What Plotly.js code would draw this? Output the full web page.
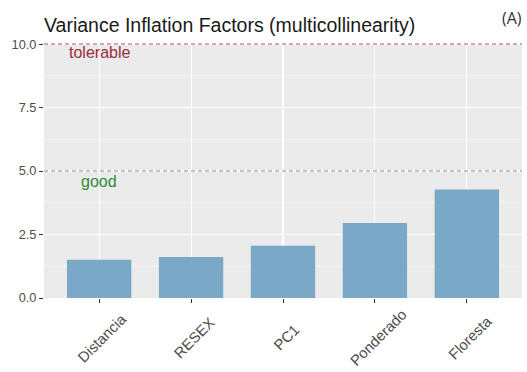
<!DOCTYPE html>
<html>
<head>
<meta charset="utf-8">
<script src="https://cdn.plot.ly/plotly-3.0.1.min.js"></script>
<style>
  html, body { margin: 0; padding: 0; background: #ffffff; }
  #chart { width: 527px; height: 372px; }
</style>
</head>
<body>
<div id="chart"></div>
<script>
// Variance inflation factor per predictor
const predictors = ["Distancia", "RESEX", "PC1", "Ponderado", "Floresta"];
const vifValues = [1.51, 1.61, 2.06, 2.95, 4.27];

// Reference thresholds
const thresholdValues = [10, 5];
const thresholdLabels = ["tolerable", "good"];
const thresholdLabelY = [9.65, 4.6];

// Y axis ticks
const yTickVals = [0, 2.5, 5, 7.5, 10];
const yTickText = ["0.0", "2.5", "5.0", "7.5", "10.0"];

const baseFont = "Liberation Sans, Arial, sans-serif";
const thresholdColors = ["#a8505c", "#6f9a6f"];
const labelColors = ["#9b2d3b", "#2f8a35"];

const trace = {
  type: "bar",
  x: predictors,
  y: vifValues,
  width: 0.7,
  marker: { color: "#7aa8c6", line: { width: 0 } },
  hoverinfo: "x+y"
};

const shapes = thresholdValues.map((v, i) => ({
  type: "line",
  xref: "paper", yref: "y",
  x0: 0, x1: 1, y0: v, y1: v,
  line: { color: thresholdColors[i], width: 1.1, dash: "4px,3px" },
  layer: "above"
}));

const annotations = [];
thresholdLabels.forEach((t, i) => {
  annotations.push({
    xref: "x", yref: "y",
    x: predictors[0], y: thresholdLabelY[i],
    text: t, showarrow: false,
    xanchor: "center", yanchor: "middle",
    font: { family: baseFont, size: 16, color: labelColors[i] }
  });
});

// Rotated category labels centred under each tick
predictors.forEach(p => {
  annotations.push({
    xref: "x", yref: "paper",
    x: p, y: -0.155,
    xshift: 3,
    text: p, showarrow: false, textangle: -45,
    xanchor: "center", yanchor: "middle",
    font: { family: baseFont, size: 14.8, color: "#4d4d4d" }
  });
});

// Panel tag
annotations.push({
  xref: "paper", yref: "paper",
  x: 1.0, y: 1.0, yshift: 25, xshift: 2,
  text: "(A)", showarrow: false,
  xanchor: "right", yanchor: "middle",
  font: { family: "Open Sans, Noto Sans, sans-serif", size: 16, color: "#333333" }
});

const layout = {
  width: 527, height: 372,
  margin: { l: 44, r: 5, t: 43, b: 74, pad: 0 },
  paper_bgcolor: "#ffffff",
  plot_bgcolor: "#ebebeb",
  showlegend: false,
  bargap: 0.3,
  title: {
    text: "Variance Inflation Factors (multicollinearity)",
    font: { family: baseFont, size: 19.5, color: "#1a1a1a" },
    xref: "paper", x: 0, xanchor: "left",
    yref: "container", y: 1 - 25 / 372, yanchor: "middle"
  },
  xaxis: {
    type: "category",
    range: [-0.6, 4.6],
    showticklabels: false,
    ticks: "outside", ticklen: 4, tickwidth: 1, tickcolor: "#333333",
    showgrid: true, gridcolor: "#ffffff", gridwidth: 1.1,
    zeroline: false, showline: false, fixedrange: true
  },
  yaxis: {
    range: [0, 10.04],
    tickmode: "array", tickvals: yTickVals, ticktext: yTickText,
    ticks: "outside", ticklen: 4, tickwidth: 1, tickcolor: "#333333",
    tickfont: { family: baseFont, size: 12.8, color: "#4d4d4d" },
    showgrid: true, gridcolor: "#ffffff", gridwidth: 1.1,
    minor: { tickmode: "array", tickvals: [1.25, 3.75, 6.25, 8.75], showgrid: true, gridcolor: "#ffffff", gridwidth: 0.5, ticks: "" },
    zeroline: false, showline: false, fixedrange: true
  },
  shapes: shapes,
  annotations: annotations
};

Plotly.newPlot("chart", [trace], layout, { displayModeBar: false, staticPlot: true });
</script>
</body>
</html>
